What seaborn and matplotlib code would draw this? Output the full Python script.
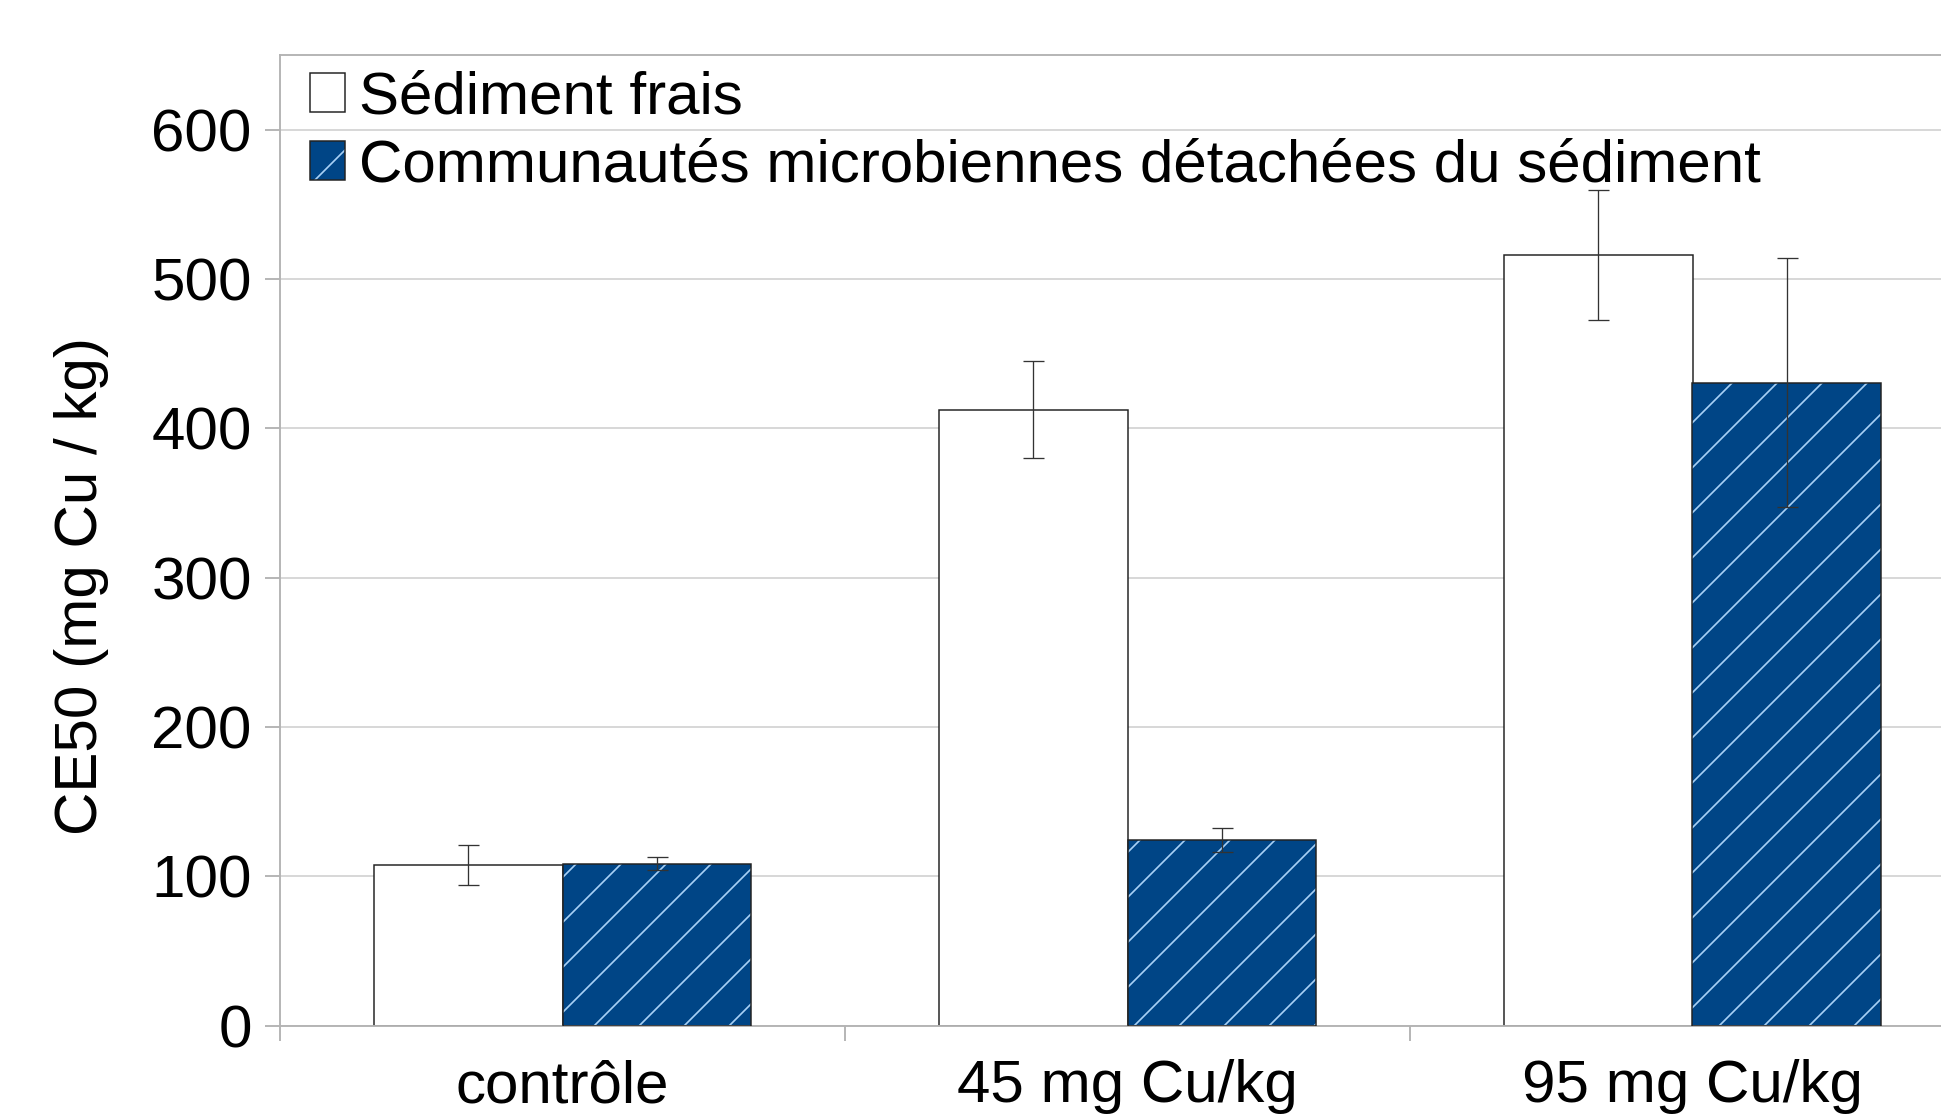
import numpy as np
import pandas as pd
import matplotlib
matplotlib.use("Agg")
import matplotlib.pyplot as plt
import seaborn as sns
from matplotlib.patches import Rectangle
from matplotlib.ticker import FixedLocator

# ---- data ----
categories = ["contrôle", "45 mg Cu/kg", "95 mg Cu/kg"]
series = ["Sédiment frais", "Communautés microbiennes détachées du sédiment"]
frais_mean = [107.5, 412.5, 516.0]
frais_err = [13.5, 32.5, 43.5]
detach_mean = [108.5, 124.5, 430.5]
detach_err = [4.5, 8.0, 83.5]
yticks = [0, 100, 200, 300, 400, 500, 600]
ylabel = "CE50 (mg Cu / kg)"

# ---- style ----
BLUE = "#004586"
HATCH = "#a8d0f5"
EDGE = "#222222"
GRID = "#d6d6d6"
SPINE = "#b3b3b3"
DPI = 270
FS = 16.05

sns.set_style("white")
plt.rcParams["font.family"] = ["Liberation Sans", "DejaVu Sans"]
plt.rcParams["hatch.linewidth"] = 0.45
plt.rcParams["hatch.color"] = HATCH
plt.rcParams["text.color"] = "black"

W, H = 1941, 1115
fig = plt.figure(figsize=(W / DPI, H / DPI), dpi=DPI)
ax_left, ax_top, ax_bottom = 280, 55, 1025.5
ax = fig.add_axes([ax_left / W, 1 - ax_bottom / H, 1 - ax_left / W, (ax_bottom - ax_top) / H])

df = pd.DataFrame({
    "cat": categories * 2,
    "serie": [series[0]] * len(categories) + [series[1]] * len(categories),
    "val": frais_mean + detach_mean,
})

sns.barplot(data=df, x="cat", y="val", hue="serie", order=categories, hue_order=series,
            palette=["white", BLUE], width=2 / 3, errorbar=None, saturation=1,
            ax=ax, legend=False, zorder=2)

c_frais, c_detach = ax.containers[0], ax.containers[1]
for p in c_frais:
    p.set_edgecolor(EDGE)
    p.set_linewidth(0.4)
for p in c_detach:
    p.set_hatch("//")
    p.set_edgecolor(HATCH)
    p.set_linewidth(0)
    ax.add_patch(Rectangle(p.get_xy(), p.get_width(), p.get_height(), fill=False,
                           edgecolor=EDGE, linewidth=0.4, zorder=3))

for cont, m, e in [(c_frais, frais_mean, frais_err), (c_detach, detach_mean, detach_err)]:
    xs = [p.get_x() + p.get_width() / 2 for p in cont]
    ax.errorbar(xs, m, yerr=e, fmt="none", ecolor="#333333", elinewidth=0.35,
                capsize=2.8, capthick=0.35, zorder=4)

# ---- axes ----
ax.set_ylim(0, 650)
ax.set_xlim(-0.5, -0.5 + (W - ax_left) / 565.0)
ax.set_yticks(yticks)
ax.yaxis.grid(True, color=GRID, linewidth=0.5)
ax.xaxis.grid(False)
ax.set_axisbelow(True)
for s in ["left", "bottom", "top"]:
    ax.spines[s].set_visible(True)
    ax.spines[s].set_color(SPINE)
    ax.spines[s].set_linewidth(0.5)
ax.spines["right"].set_visible(False)

ax.tick_params(axis="y", which="major", length=4, width=0.5, color=SPINE,
               direction="out", pad=3.5, labelsize=FS, labelcolor="black", left=True)
ax.xaxis.set_minor_locator(FixedLocator([-0.5, 0.5, 1.5, 2.5]))
ax.tick_params(axis="x", which="minor", length=4, width=0.5, color=SPINE,
               direction="out", bottom=True)
ax.tick_params(axis="x", which="major", length=0, pad=9.0, labelsize=FS,
               labelcolor="black")
ax.set_xlabel("")
ax.set_ylabel(ylabel, fontsize=FS, color="black")
ax.yaxis.set_label_coords(-0.103, 0.4526)

# ---- legend ----
h1 = Rectangle((0, 0), 1, 1, facecolor="white", edgecolor=EDGE, linewidth=0.4)
h2a = Rectangle((0, 0), 1, 1, facecolor=BLUE, edgecolor=HATCH, linewidth=0, hatch="//")
h2b = Rectangle((0, 0), 1, 1, fill=False, edgecolor=EDGE, linewidth=0.4)
leg = ax.legend([h1, (h2a, h2b)], series, loc="upper left",
                bbox_to_anchor=(30 / (W - ax_left), 1 - 16 / (ax_bottom - ax_top)),
                borderaxespad=0, borderpad=0, frameon=False, fontsize=FS,
                handlelength=0.58, handleheight=0.62, handletextpad=0.24,
                labelspacing=0.21, labelcolor="black")

fig.savefig("out.png", dpi=DPI)
